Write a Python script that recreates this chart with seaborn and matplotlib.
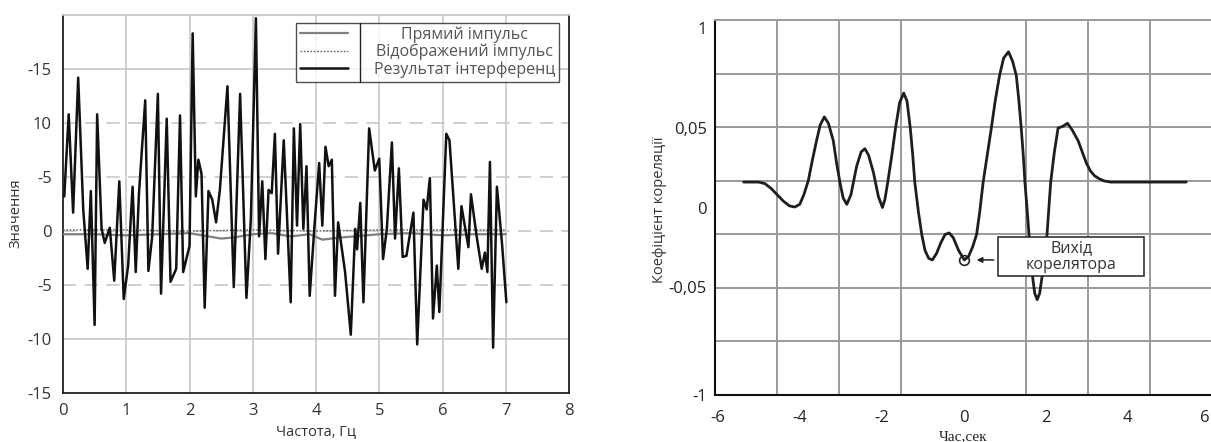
import numpy as np
import pandas as pd
import matplotlib
matplotlib.use("Agg")
import matplotlib.pyplot as plt
from matplotlib.patches import Rectangle
import seaborn as sns

# ---------------- data: interference signal ----------------
freq = [0.02, 0.09, 0.16, 0.24, 0.32, 0.39, 0.44, 0.50, 0.54, 0.61, 0.66, 0.74,
        0.81, 0.89, 0.96, 1.03, 1.10, 1.15, 1.20, 1.30, 1.35, 1.41, 1.50, 1.55,
        1.64, 1.70, 1.79, 1.85, 1.90, 2.00, 2.05, 2.10, 2.14, 2.19, 2.24, 2.30,
        2.36, 2.42, 2.48, 2.60, 2.70, 2.80, 2.90, 2.97, 3.05, 3.10, 3.15, 3.20,
        3.25, 3.30, 3.35, 3.40, 3.49, 3.60, 3.65, 3.70, 3.75, 3.80, 3.85, 3.90,
        3.98, 4.05, 4.10, 4.15, 4.20, 4.25, 4.30, 4.35, 4.46, 4.55, 4.62, 4.65,
        4.70, 4.75, 4.84, 4.93, 5.00, 5.06, 5.12, 5.20, 5.25, 5.31, 5.37, 5.43,
        5.54, 5.60, 5.70, 5.75, 5.80, 5.85, 5.91, 5.95, 6.06, 6.11, 6.25, 6.30,
        6.41, 6.45, 6.54, 6.62, 6.67, 6.71, 6.75, 6.80, 6.86, 6.94, 7.01]
result = [3.2, 10.8, 1.7, 14.2, 2.0, -3.5, 3.7, -8.7, 10.8, 0.2, -1.1, 0.3,
          -4.6, 4.6, -6.3, -3.2, 4.1, -3.8, 3.4, 12.1, -3.7, -0.5, 12.7, -5.8,
          10.4, -4.7, -3.5, 10.7, -3.8, -1.4, 18.3, 3.2, 6.6, 5.3, -7.1, 3.7,
          2.9, 0.8, 3.8, 13.4, -5.2, 12.7, -6.2, 1.1, 19.7, -0.5, 4.6, -2.6,
          3.8, 3.5, 9.0, -2.1, 8.4, -6.6, 9.5, 0.5, 9.9, 0.2, 6.0, -6.0,
          0.8, 6.3, 0.5, 7.8, 6.0, 6.6, -6.0, 0.8, -3.8, -9.6, 0.2, -1.7,
          2.6, -6.6, 9.5, 5.6, 6.7, -2.6, 0.2, 8.2, -0.7, 5.8, -2.4, -2.3,
          1.7, -10.5, 2.9, 2.0, 4.9, -8.1, -3.2, -7.5, 9.0, 8.4, -3.5, 2.3,
          -1.5, 3.4, -0.5, -3.5, -2.0, -3.8, 6.4, -10.8, 4.1, -1.1, -6.6]

direct_f = [0.0, 0.5, 1.0, 1.5, 2.0, 2.3, 2.5, 2.7, 3.0, 3.3, 3.6, 3.9, 4.1,
            4.4, 5.0, 5.5, 6.0, 6.5, 7.0]
direct_v = [-0.3, -0.3, -0.4, -0.3, -0.2, -0.5, -0.7, -0.6, -0.3, -0.2, -0.5,
            -0.3, -0.8, -0.6, -0.3, -0.2, -0.4, -0.3, -0.3]

reflect_f = [0.0, 1.0, 2.0, 3.0, 4.0, 5.0, 6.0, 7.0]
reflect_v = [0.1, 0.1, 0.0, 0.1, 0.0, 0.1, 0.1, 0.1]

left_xticks = [0, 1, 2, 3, 4, 5, 6, 7, 8]
left_yticks = [-15, -10, -5, 0, 5, 10, 15]
left_ylabels = ["-15", "-10", "-5", "0", "-5", "10", "-15"]

# ---------------- data: correlator output ----------------
lag = [-5.37, -5.0, -4.85, -4.7, -4.55, -4.4, -4.25, -4.12, -4.0, -3.9,
       -3.79, -3.69, -3.59, -3.5, -3.40, -3.30, -3.18, -3.10, -3.02, -2.94,
       -2.85, -2.75, -2.68, -2.61, -2.50, -2.41, -2.32, -2.20, -2.08, -1.98,
       -1.92, -1.85, -1.75, -1.66, -1.56, -1.46, -1.38, -1.30, -1.24, -1.19,
       -1.10, -1.02, -0.94, -0.85, -0.76, -0.66, -0.55, -0.45, -0.35, -0.25,
       -0.12, 0.02, 0.12, 0.22, 0.32, 0.40, 0.48, 0.58, 0.68, 0.78,
       0.88, 0.98, 1.10, 1.20, 1.29, 1.35, 1.41, 1.46, 1.50, 1.55,
       1.60, 1.67, 1.74, 1.80, 1.86, 1.95, 2.04, 2.13, 2.22, 2.31,
       2.42, 2.54, 2.65, 2.80, 2.90, 3.00, 3.10, 3.20, 3.32, 3.44,
       3.60, 5.44]
corr = [0.016, 0.016, 0.015, 0.012, 0.008, 0.004, 0.001, 0.0003, 0.002, 0.008,
        0.017, 0.030, 0.042, 0.052, 0.057, 0.053, 0.042, 0.028, 0.016, 0.006,
        0.002, 0.008, 0.017, 0.026, 0.035, 0.037, 0.033, 0.022, 0.007, 0.000,
        0.005, 0.016, 0.033, 0.050, 0.066, 0.072, 0.067, 0.050, 0.033, 0.016,
        -0.003, -0.017, -0.027, -0.032, -0.033, -0.029, -0.022, -0.017, -0.016, -0.019,
        -0.027, -0.033, -0.031, -0.025, -0.017, -0.002, 0.016, 0.033, 0.050, 0.068,
        0.083, 0.094, 0.098, 0.092, 0.083, 0.068, 0.050, 0.033, 0.016, 0.000,
        -0.017, -0.040, -0.054, -0.058, -0.054, -0.038, -0.017, 0.016, 0.035, 0.050,
        0.051, 0.053, 0.049, 0.042, 0.035, 0.028, 0.023, 0.020, 0.018, 0.0167,
        0.016, 0.016]

right_xticks = [-6, -4, -2, 0, 2, 4, 6]
right_yticks = [-0.118, -0.05, 0.0, 0.05, 0.113]
right_ylabels = ["-1", "-0,05", "0", "0,05", "1"]

# ---------------- style ----------------
sns.set_theme(style="white")
plt.rcParams['font.family'] = ['Open Sans', 'DejaVu Sans']
plt.rcParams['axes.unicode_minus'] = False

W, H = 1211, 442
fig = plt.figure(figsize=(W / 100, H / 100), dpi=100)
fig.patch.set_facecolor("white")

ax1 = fig.add_axes([63 / W, 1 - 393 / H, 506 / W, 378 / H])
ax2 = fig.add_axes([715 / W, 1 - 395 / H, 497 / W, 375 / H])

grid_col = "#c8c8c8"

# ---------------- left panel ----------------
sig = pd.DataFrame({"f": freq, "v": result})
sns.lineplot(x=direct_f, y=direct_v, ax=ax1, color="#808080", lw=1.6,
             sort=False, estimator=None, label="Прямий імпульс", zorder=3)
sns.lineplot(x=reflect_f, y=reflect_v, ax=ax1, color="#606060", lw=1.0,
             linestyle=(0, (1.2, 1.2)), sort=False, estimator=None,
             label="Відображений імпульс", zorder=3)
sns.lineplot(data=sig, x="f", y="v", ax=ax1, color="#111111", lw=1.8,
             sort=False, estimator=None, label="Результат інтерференц", zorder=4)

ax1.set_xlim(0, 8)
ax1.set_ylim(-15, 20)
ax1.set_xticks(left_xticks)
ax1.set_xticklabels([str(t) for t in left_xticks])
ax1.set_yticks(left_yticks)
ax1.set_yticklabels(left_ylabels)
for t in left_xticks[1:-1]:
    ax1.axvline(t, color=grid_col, lw=1.2, zorder=1)
for t in left_yticks[1:] + [20]:
    dashed = t in (-5, 0, 5, 10)
    ax1.axhline(t, color=grid_col, lw=1.2, zorder=1,
                linestyle=(0, (8, 5)) if dashed else "-")
ax1.tick_params(axis="both", length=0, labelsize=12, colors="#333333")
ax1.tick_params(axis="y", pad=8)
ax1.tick_params(axis="x", pad=7)
for side in ("left", "bottom", "right"):
    ax1.spines[side].set_color("#222222")
    ax1.spines[side].set_linewidth(1.3)
ax1.spines["top"].set_color(grid_col)
ax1.set_xlabel("Частота, Гц", fontsize=10.5, color="#333333", labelpad=4)
ax1.set_ylabel("Значення", fontsize=10.5, color="#333333")
ax1.yaxis.set_label_coords(-0.078, 0.475)

leg = ax1.legend(loc="upper right", bbox_to_anchor=(0.98, 0.98),
                 frameon=True, fancybox=False, fontsize=11.5,
                 handlelength=3.0, handletextpad=1.6, borderpad=0.25,
                 labelspacing=0.05, borderaxespad=0.0)
leg.get_frame().set_edgecolor("#222222")
leg.get_frame().set_linewidth(1.0)
for txt in leg.get_texts():
    txt.set_color("#555555")
fig.canvas.draw()
renderer = fig.canvas.get_renderer()
widths = [t.get_window_extent(renderer).width for t in leg.get_texts()]
for t, w in zip(leg.get_texts(), widths):
    t.set_x((max(widths) - w) / 2)
fig.canvas.draw()
bb = leg.get_window_extent().transformed(ax1.transAxes.inverted())
sep_x = bb.x0 + 0.245 * bb.width
ax1.plot([sep_x, sep_x], [bb.y0, bb.y1], transform=ax1.transAxes,
         color="#222222", lw=1.0, zorder=10, clip_on=False)

# ---------------- right panel ----------------
cor = pd.DataFrame({"lag": lag, "corr": corr})
sns.lineplot(data=cor, x="lag", y="corr", ax=ax2, color="#1e1e1e", lw=2.0,
             sort=False, estimator=None, zorder=4)

xlo, xhi = -6.07, 6.07
ylo, yhi = -0.118, 0.118
ax2.set_xlim(xlo, xhi)
ax2.set_ylim(ylo, yhi)
ax2.set_xticks(right_xticks)
ax2.set_xticklabels([str(t) for t in right_xticks])
ax2.get_xticklabels()[-1].set_horizontalalignment("right")
ax2.set_yticks(right_yticks)
ax2.set_yticklabels(right_ylabels)
ax2.set_xticks(np.linspace(xlo, xhi, 9)[1:-1], minor=True)
ax2.set_yticks(np.linspace(ylo, yhi, 8)[1:-1], minor=True)
ax2.grid(which="minor", color="#9a9a9a", lw=1.4)
ax2.grid(which="major", visible=False)
ax2.tick_params(which="major", length=0, labelsize=12, colors="#222222")
ax2.tick_params(which="minor", direction="in", length=3, width=1.2, color="#222222")
ax2.tick_params(axis="y", which="major", pad=6)
ax2.tick_params(axis="x", which="major", pad=11)
for side in ("left", "bottom"):
    ax2.spines[side].set_color("#111111")
    ax2.spines[side].set_linewidth(1.5)
ax2.spines["top"].set_color("#9a9a9a")
ax2.spines["top"].set_linewidth(1.4)
ax2.spines["right"].set_visible(False)
ax2.set_xlabel("Час,сек", fontsize=11, family="Liberation Serif",
               color="#222222", labelpad=3)
ax2.set_ylabel("Коефіцієнт кореляції", fontsize=10.5, color="#333333")
ax2.yaxis.set_label_coords(-0.097, 0.493)

# correlator output marker, arrow and caption box
k = int(np.argmin(np.abs(np.array(lag) - 0.0)))
mx, my = lag[k], corr[k]
ax2.plot([mx], [my], marker="o", ms=7, mfc="none", mec="#222222", mew=1.2,
         zorder=6)
ax2.annotate("", xy=(mx + 0.3, my), xytext=(mx + 0.72, my),
             arrowprops=dict(arrowstyle="-|>", color="#222222", lw=1.1,
                             mutation_scale=8, shrinkA=0, shrinkB=0), zorder=6)
bx0, bx1, by0, by1 = 0.85, 4.41, -0.0431, -0.0186
ax2.add_patch(Rectangle((bx0, by0), bx1 - bx0, by1 - by0, fc="white",
                        ec="#222222", lw=1.1, zorder=7))
ax2.text((bx0 + bx1) / 2, (by0 + by1) / 2, "Вихід\nкорелятора", ha="center",
         va="center", fontsize=11.5, color="#333333", zorder=8, linespacing=1.05)

fig.savefig("out.png", dpi=100)
